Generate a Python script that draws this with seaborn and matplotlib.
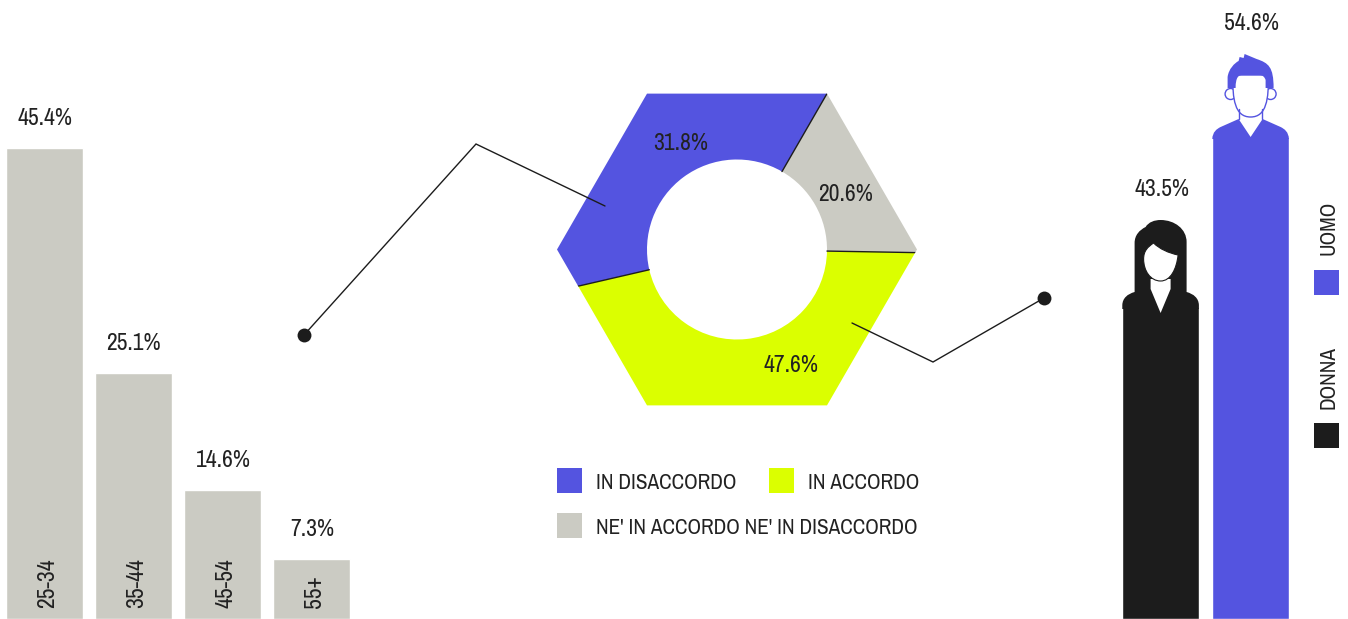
import numpy as np
import pandas as pd
import matplotlib
matplotlib.use("Agg")
import matplotlib.pyplot as plt
from matplotlib.patches import RegularPolygon, Rectangle, PathPatch, Circle
from matplotlib.path import Path
from matplotlib.transforms import Affine2D
import seaborn as sns

# ---- data ----
age_groups = ["25-34", "35-44", "45-54", "55+"]
age_labels = [45.4, 25.1, 14.6, 7.3]
age_bar_lengths = [471, 246, 129, 60]          # drawn lengths in the reference

donut_names = ["NE' IN ACCORDO NE' IN DISACCORDO", "IN DISACCORDO", "IN ACCORDO"]
donut_labels = [20.6, 31.8, 47.6]
donut_sweeps = [61.0, 133.0, 166.0]            # drawn angular spans in the reference
donut_start = -1.0

gender_names = ["DONNA", "UOMO"]
gender_labels = [43.5, 54.6]
gender_body_lengths = [312, 482]               # bar up to the shoulders

BLUE, LIME, GREY, INK = "#5454E0", "#DBFF00", "#CBCBC3", "#1C1C1C"
TEXT = "#222222"
W, H = 1348, 619

sns.set_theme(style="white")
plt.rcParams["font.family"] = ["Archivo Narrow", "Liberation Sans", "DejaVu Sans"]
FS = 17
FS_CAPS = 15.3

fig = plt.figure(figsize=(W / 100, H / 100), dpi=100, facecolor="white")


def px_axes(x0, y0, x1, y1, **kw):
    """Axes placed by reference pixel box."""
    return fig.add_axes([x0 / W, 1 - y1 / H, (x1 - x0) / W, (y1 - y0) / H], **kw)


# ---- age bars ----
ax_age = px_axes(-0.6, 0, 355.4, H)
sns.barplot(x=age_groups, y=age_bar_lengths, color=GREY, saturation=1,
            width=76.6 / 89, ax=ax_age)
ax_age.set_xlim(-45 / 89, 4 - 45 / 89)
ax_age.set_ylim(0, H)
for i, (bar, name, val) in enumerate(zip(ax_age.patches, age_groups, age_labels)):
    ax_age.text(i + 3.5 / 89, 11, name, rotation=90, ha="center", va="bottom", color=TEXT, fontsize=FS)
    ax_age.text(i + 0.5 / 89, bar.get_height() + 29.5, f"{val}%", ha="center", va="center",
                color=TEXT, fontsize=FS)
ax_age.axis("off")

# ---- hexagonal donut ----
ax_d = px_axes(557, 69.5, 917, 429.5)
wedges, _ = ax_d.pie(donut_sweeps, colors=[GREY, BLUE, LIME], startangle=donut_start,
                     counterclock=True, radius=1.3, wedgeprops=dict(width=0.8, linewidth=0))
hexagon = RegularPolygon((0, 0), 6, radius=1.0, orientation=np.pi / 6,
                         facecolor="none", edgecolor="none", transform=ax_d.transData)
ax_d.add_patch(hexagon)
for w in wedges:
    w.set_clip_on(True)
    w.set_clip_path(hexagon)
for edge in donut_start + np.cumsum([0] + donut_sweeps[:-1]):
    a = np.deg2rad(edge)
    ln, = ax_d.plot([0.5 * np.cos(a), 1.2 * np.cos(a)], [0.5 * np.sin(a), 1.2 * np.sin(a)],
                    color=INK, lw=1.0)
    ln.set_clip_path(hexagon)
ax_d.set_xlim(-1, 1)
ax_d.set_ylim(-1, 1)
ax_d.set_aspect("equal")
ax_d.axis("off")

# ---- gender bars with person icons ----
ax_g = px_axes(1099.3, 0, 1303.3, H)
df_g = pd.DataFrame({"g": gender_names, "v": gender_body_lengths})
sns.barplot(df_g, x="g", y="v", hue="g", palette=[INK, BLUE], saturation=1,
            width=76.6 / 90, legend=False, ax=ax_g)
ax_g.set_xlim(-61.3 / 90, 204 / 90 - 61.3 / 90)
ax_g.set_ylim(0, H)


def polygon(points):
    """Closed polygon from (x, y) pixel offsets."""
    pts = list(points) + [points[0]]
    return Path(pts, [Path.MOVETO] + [Path.LINETO] * (len(points) - 1) + [Path.CLOSEPOLY])


def curve(*segments):
    verts, codes = [], []
    for kind, pts in segments:
        verts += pts
        codes += {"M": [Path.MOVETO], "L": [Path.LINETO], "C": [Path.CURVE4] * 3}[kind]
    verts.append(verts[0])
    codes.append(Path.CLOSEPOLY)
    return Path(verts, codes)


def add(ax, tr, path, **kw):
    kw.setdefault("linewidth", 0)
    ax.add_patch(PathPatch(path, transform=tr, **kw))


def woman(ax, tr, c):
    # offsets in px from bar centre / shoulder line; y up
    add(ax, tr, curve(
        ("M", [(-38.3, -2)]),
        ("L", [(-38.3, 2)]),
        ("C", [(-38, 9), (-33, 13), (-26, 15)]),
        ("L", [(-26, 64)]),
        ("C", [(-26, 72), (-21, 77), (-15, 80)]),
        ("C", [(-12, 85), (-6, 87), (0, 87)]),
        ("C", [(14, 87), (26, 78), (26, 65)]),
        ("L", [(26, 15)]),
        ("C", [(33, 13), (38, 9), (38.3, 2)]),
        ("L", [(38.3, -2)]),
    ), facecolor=c)
    # collar
    add(ax, tr, polygon([(-10, 28), (-10, 18), (0, -6), (10, 18), (10, 28)]), facecolor="white")
    # face
    add(ax, tr, curve(
        ("M", [(-17, 48)]),
        ("C", [(-17, 56), (-13, 60), (-7, 64)]),
        ("C", [(-1, 58), (8, 54), (17.5, 52)]),
        ("C", [(16, 38), (10, 26), (0, 26)]),
        ("C", [(-10, 26), (-17, 36), (-17, 48)]),
    ), facecolor="white", edgecolor=c, linewidth=0.8)


def man(ax, tr, c):
    # shoulders
    add(ax, tr, curve(
        ("M", [(-38.3, -2)]),
        ("C", [(-38, 5), (-34, 8), (-30, 10)]),
        ("L", [(-12, 18)]),
        ("L", [(0, 0)]),
        ("L", [(12, 18)]),
        ("L", [(30, 10)]),
        ("C", [(34, 8), (38, 5), (38.3, -2)]),
    ), facecolor=c)
    # neck sides
    ax.plot([-11.5, -11.5], [18, 28], transform=tr, color=c, lw=1.0)
    ax.plot([11.5, 11.5], [18, 28], transform=tr, color=c, lw=1.0)
    # ears
    for sx in (-20, 20):
        ax.add_patch(Circle((sx, 43), 5.5, transform=tr, facecolor="white", edgecolor=c, lw=1.0))
    # face
    add(ax, tr, curve(
        ("M", [(-18, 62)]),
        ("L", [(18, 62)]),
        ("C", [(18, 38), (16, 20), (0, 20)]),
        ("C", [(-16, 20), (-18, 38), (-18, 62)]),
    ), facecolor="white", edgecolor=c, linewidth=1.0)
    # hair
    add(ax, tr, curve(
        ("M", [(-23, 49)]),
        ("L", [(-23, 60)]),
        ("C", [(-22, 68), (-16, 74), (-12, 76)]),
        ("L", [(-11, 80)]),
        ("L", [(-7, 79)]),
        ("L", [(-6, 83)]),
        ("L", [(6, 78)]),
        ("C", [(18, 74), (23, 70), (23, 49)]),
        ("L", [(15, 49)]),
        ("L", [(15, 57)]),
        ("C", [(14, 60), (12, 62), (9, 62)]),
        ("L", [(-8, 62)]),
        ("C", [(-12, 62), (-15, 60), (-15, 49)]),
    ), facecolor=c)


ICON_TOPS = [87, 83]
for i, (bar, draw, col, val, top) in enumerate(zip(ax_g.patches, [woman, man], [INK, BLUE],
                                                    gender_labels, ICON_TOPS)):
    tr = Affine2D().scale(1 / 90, 1).translate(i, bar.get_height()) + ax_g.transData
    draw(ax_g, tr, col)
    ax_g.text(i + 1 / 90, bar.get_height() + top + 30, f"{val}%", ha="center", va="center",
              color=TEXT, fontsize=FS)
ax_g.axis("off")

# ---- overlay: leader lines, legends, in-slice labels ----
ov = px_axes(0, 0, W, H, zorder=5)
ov.set_xlim(0, W)
ov.set_ylim(H, 0)
ov.axis("off")

ov.plot([304, 476, 605], [335, 144, 206], color=INK, lw=1.0, solid_joinstyle="miter")
ov.plot([1044, 933, 852], [298, 362, 323], color=INK, lw=1.0, solid_joinstyle="miter")
ov.plot([304, 1044], [335, 298], ls="none", marker="o", ms=10, color=INK, mew=0)

for (x, y), val in zip([(846, 194.5), (681, 143.5), (791.5, 365.5)], donut_labels):
    ov.text(x, y, f"{val}%", ha="center", va="center", color=TEXT, fontsize=FS)

for (x, y, c, name) in [(557, 468, BLUE, donut_names[1]), (769, 468, LIME, donut_names[2]),
                        (557, 513, GREY, donut_names[0])]:
    ov.add_patch(Rectangle((x, y), 25, 25, facecolor=c, edgecolor="none"))
    ov.text(x + 39, y + 15, name, ha="left", va="center", color=TEXT, fontsize=FS_CAPS)

for (y, yt, c, name) in [(270, 255, BLUE, gender_names[1]), (423, 409, INK, gender_names[0])]:
    ov.add_patch(Rectangle((1314, y), 25, 25, facecolor=c, edgecolor="none"))
    ov.text(1329, yt, name, rotation=90, ha="center", va="bottom", color=TEXT, fontsize=FS_CAPS)

fig.savefig("out.png", dpi=100, facecolor="white")
